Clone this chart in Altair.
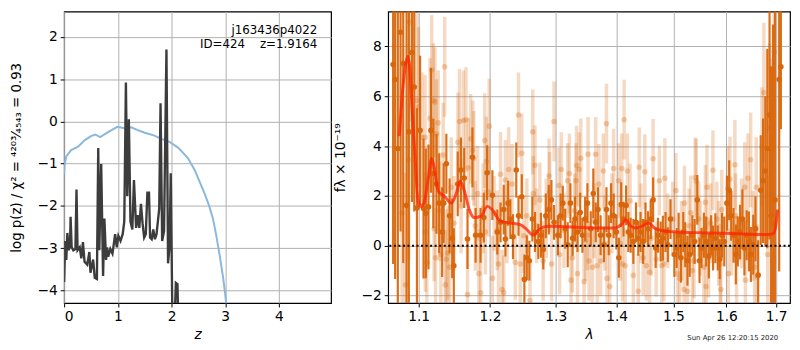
import altair as alt
import pandas as pd

# ---------------- left panel: log p(z) ----------------
pz_z = [0.00, 0.02, 0.04, 0.06, 0.085, 0.11, 0.12, 0.14, 0.17, 0.21,
        0.23, 0.25, 0.29, 0.32, 0.35, 0.38, 0.43, 0.47, 0.49, 0.54,
        0.57, 0.61, 0.635, 0.655, 0.69, 0.725, 0.75, 0.78, 0.80, 0.82,
        0.86, 0.90, 0.95, 0.98, 1.01, 1.05, 1.09, 1.12, 1.15, 1.175,
        1.205, 1.235, 1.27, 1.30, 1.34, 1.37, 1.40, 1.43, 1.46, 1.49,
        1.52, 1.55, 1.58, 1.60, 1.63, 1.66, 1.69, 1.72, 1.77, 1.795,
        1.825, 1.86, 1.905, 1.935, 1.965, 1.985, 2.015, 2.05, 2.08, 2.11,
        2.13, 2.20, 2.50]
pz_logp = [-3.80, -2.83, -3.28, -2.64, -3.05, -2.95, -2.26, -2.98, -3.05, -3.02,
           -1.61, -3.05, -2.98, -3.24, -2.86, -3.32, -3.39, -3.09, -3.58, -3.27,
           -3.70, -3.73, -0.63, -3.05, -1.01, -3.66, -2.30, -3.28, -2.98, -3.20,
           -3.02, -3.13, -2.67, -2.98, -2.71, -2.83, -2.67, -2.37, 0.92, -1.77,
           0.05, -2.37, -2.56, -1.39, -2.52, -2.22, -2.52, -1.95, -2.41, -2.75,
           -2.67, -1.69, -1.69, -2.75, -2.79, -2.56, -2.79, -2.67, -2.07, 0.43,
           -2.83, -2.60, 1.70, -3.36, -2.90, -1.23, -4.60, -5.00, -3.82, -3.85,
           -5.00, -6.50, -9.00]

chi_z = [0, 0.01, 0.04, 0.13, 0.26, 0.38, 0.5, 0.58, 0.67, 0.81,
         0.99, 1.08, 1.18, 1.25, 1.36, 1.5, 1.67, 1.82, 1.97, 2.12,
         2.22, 2.31, 2.43, 2.52, 2.62, 2.7, 2.77, 2.83, 2.9, 2.96,
         3.0, 3.03]
chi_val = [-1.25, -1.02, -0.83, -0.68, -0.6, -0.45, -0.35, -0.31, -0.37, -0.26,
           -0.13, -0.15, -0.17, -0.14, -0.2, -0.27, -0.33, -0.42, -0.49, -0.62,
           -0.75, -0.88, -1.15, -1.42, -1.72, -2.0, -2.3, -2.68, -3.2, -3.7,
           -4.1, -4.5]

z_ticks = [0, 1, 2, 3, 4]
logp_ticks = [-4, -3, -2, -1, 0, 1, 2]

# ---------------- right panel: spectrum ----------------
dark_lam = [1.0664, 1.0690, 1.0725, 1.0761, 1.0796, 1.0840, 1.0870, 1.0912, 1.0942, 1.0978,
            1.1020, 1.1066, 1.1097, 1.1133, 1.1167, 1.1199, 1.1243, 1.1279, 1.1320, 1.1341,
            1.1378, 1.1423, 1.1459, 1.1482, 1.1537, 1.1582, 1.1628, 1.1675, 1.1745, 1.1791,
            1.1862, 1.1909, 1.1957,
            1.2034, 1.2106, 1.2154, 1.2202, 1.2226, 1.2267, 1.2300, 1.2340, 1.2389, 1.2423,
            1.2473, 1.2512, 1.2549, 1.2588, 1.2634, 1.2675, 1.2726, 1.2767, 1.2803, 1.2843,
            1.2890, 1.2931, 1.2972,
            1.3033, 1.3076, 1.3111, 1.3149, 1.3190, 1.3233, 1.3269, 1.3307, 1.3348, 1.3392,
            1.3428, 1.3473, 1.3510, 1.3565, 1.3607, 1.3647, 1.3685, 1.3729, 1.3784, 1.3827,
            1.3866, 1.3904, 1.3949, 1.3994,
            1.4037, 1.4077, 1.4117, 1.4162, 1.4201, 1.4241, 1.4287, 1.4333, 1.4373, 1.4413,
            1.4458, 1.4500, 1.4546, 1.4594, 1.4635, 1.4681, 1.4722, 1.4770, 1.4810, 1.4858,
            1.4900, 1.4948,
            1.5019, 1.5061, 1.5097, 1.5139, 1.5183, 1.5219, 1.5260, 1.5302, 1.5352, 1.5394,
            1.5444, 1.5486, 1.5523, 1.5568, 1.5612, 1.5663, 1.5706, 1.5744, 1.5787, 1.5833,
            1.5872, 1.5916, 1.5960,
            1.6011, 1.6056, 1.6094, 1.6141, 1.6186, 1.6225, 1.6269, 1.6316, 1.6356, 1.6401,
            1.6446, 1.6485, 1.6533, 1.6578, 1.6632, 1.6684, 1.6731, 1.6778, 1.6818, 1.6864,
            1.6894, 1.6935, 1.6976, 1.7063, 1.7098]
dark_flux = [7.27, 6.67, 3.90, 8.57, 7.31, 1.62, 4.57, 7.76, 6.37, 1.52,
             4.63, 1.49, 1.30, 1.56, 4.63, 2.90, 2.48, 1.71, 0.55, 1.71,
             3.29, 1.20, 0.30, -0.80, 2.48, 3.04, 2.72, 0.27, 3.55, 0.42,
             0.42, 1.13, 2.93,
             2.03, 0.55, 0.94, 1.45, 0.27, 1.71, 1.07, 0.36, 3.04, 1.20,
             1.97, -1.35, -0.48, -0.60, 1.07, 0.55, 0.17, 0.42, -0.15, 1.20,
             1.45, 1.84, 0.94,
             0.42, 1.20, 1.71, 0.68, 0.04, 1.71, 0.30, 1.07, 0.55, 1.33,
             0.42, 1.07, 1.71, 0.68, 2.10, 0.94, 1.45, 0.42, 0.04, 1.45,
             0.42, 1.71, 1.20, 0.55,
             -0.48, 1.65, 1.07, 1.62, 0.55, 0.42, 0.17, 0.94, 0.30, 0.55,
             0.17, 0.94, 0.68, 1.07, 1.84, -0.09, 0.42, 0.17, 0.30, 0.55,
             0.04, 1.07,
             -0.35, -0.09, 0.42, -0.48, 0.55, 0.04, -0.60, -0.35, 0.42, 0.17,
             1.84, -0.60, -0.09, 0.42, 0.17, -0.41, 0.42, -0.09, 0.30, -0.09,
             -0.54, 0.42, 0.17,
             1.71, 2.23, 1.20, 0.42, -0.35, 0.17, 0.55, 1.07, -0.09, 0.42,
             0.17, -0.35, 0.04, 0.68, -1.18, 2.23, 2.61, 3.00, 3.90, 5.25,
             1.20, 0.88, 1.84, 6.67, 7.18]
dark_err = [8, 8, 8, 8, 8, 8, 8, 6, 5, 4,
            3, 2.8, 2.6, 2.5, 2.5, 2.2, 2.0, 2.0, 1.8, 1.6,
            1.2, 1.5, 1.6, 1.5, 1.3, 1.3, 1.2, 1.2, 1.2, 1.1,
            1.1, 1.0, 1.1,
            1.0, 0.9, 0.8, 1.0, 0.7, 0.9, 0.8, 0.9, 1.1, 0.8,
            0.9, 1.0, 0.9, 0.8, 0.9, 0.8, 0.7, 0.9, 0.8, 0.9,
            1.0, 0.8, 0.7,
            0.8, 0.9, 0.7, 0.8, 0.9, 0.8, 0.7, 0.9, 0.8, 0.8,
            0.7, 0.9, 0.8, 0.7, 1.0, 0.8, 0.9, 0.8, 0.7, 0.9,
            0.8, 0.8, 0.9, 0.7,
            0.8, 0.9, 0.7, 0.8, 0.8, 0.7, 0.9, 0.8, 0.7, 0.8,
            0.9, 0.8, 0.7, 0.8, 0.9, 0.8, 0.7, 0.8, 0.9, 0.8,
            0.7, 0.8,
            0.9, 0.8, 0.9, 1.0, 0.8, 0.9, 1.0, 0.9, 0.8, 0.9,
            1.0, 0.9, 0.8, 0.9, 1.0, 0.9, 0.8, 0.9, 1.0, 0.9,
            0.8, 0.9, 1.0,
            1.1, 1.2, 1.0, 1.1, 1.2, 1.0, 1.1, 1.2, 1.1, 1.0,
            1.2, 1.1, 1.2, 1.3, 1.4, 2.2, 2.5, 3.0, 4.0, 5.0,
            6.0, 8.0, 9.0, 7.7, 2.5]

light_lam = [1.0782, 1.0825, 1.0869, 1.0882, 1.0978, 1.1000, 1.1044, 1.1087, 1.1090, 1.1110,
             1.1154, 1.1176, 1.1199, 1.1209, 1.1220, 1.1230, 1.1243, 1.1265, 1.1287, 1.1302,
             1.1334, 1.1355, 1.1364, 1.1378, 1.1400, 1.1423, 1.1446, 1.1485, 1.1540, 1.1562,
             1.1584, 1.1617, 1.1653, 1.1675, 1.1688, 1.1720, 1.1751, 1.1764, 1.1787, 1.1820,
             1.1837, 1.1864, 1.1898, 1.1923, 1.1932, 1.1946, 1.1977, 1.1987, 1.2034, 1.2106,
             1.2124, 1.2154, 1.2178, 1.2202, 1.2226, 1.2275, 1.2325, 1.2374, 1.2423, 1.2449,
             1.2473, 1.2549, 1.2598, 1.2640, 1.2648, 1.2675, 1.2750, 1.2801, 1.2893, 1.2903,
             1.2934, 1.2972, 1.3049, 1.3060, 1.3086, 1.3190, 1.3216, 1.3243, 1.3264, 1.3323,
             1.3333, 1.3348, 1.3375, 1.3402, 1.3456, 1.3510, 1.3521, 1.3537, 1.3592, 1.3647,
             1.3673, 1.3700, 1.3729, 1.3773, 1.3827, 1.3837, 1.3882, 1.3949, 1.4033, 1.4088,
             1.4098, 1.4128, 1.4145, 1.4184, 1.4287, 1.4373, 1.4390, 1.4458, 1.4488, 1.4515,
             1.4573, 1.4635, 1.4690, 1.4746, 1.4789, 1.4830, 1.4846, 1.4988, 1.5046, 1.5075,
             1.5116, 1.5199, 1.5204, 1.5260, 1.5321, 1.5352, 1.5382, 1.5405, 1.5424, 1.5473,
             1.5567, 1.5597, 1.5609, 1.5627, 1.5658, 1.5741, 1.5816, 1.5881, 1.5893, 1.5912,
             1.6026, 1.6040, 1.6071, 1.6167, 1.6180, 1.6200, 1.6363, 1.6376, 1.6427, 1.6481,
             1.6560, 1.6593, 1.6613, 1.6708, 1.6748, 1.6827, 1.6860, 1.6907, 1.6960,
             1.2060, 1.2250, 1.2500, 1.2700, 1.2850, 1.3130, 1.3300, 1.3480, 1.3620, 1.3800,
             1.3920, 1.4060, 1.4230, 1.4420, 1.4600, 1.4900, 1.5150, 1.5290, 1.5500, 1.5700,
             1.5850, 1.6100, 1.6300, 1.6530]
light_flux = [1.32, -1.57, 3.45, 8.98, 5.83, 5.57, 4.35, 4.35, 0.55, -0.67,
              5.12, 7.05, 5.83, 0.68, 5.77, -0.48, 4.48, 4.93, 1.39, -0.35,
              3.64, 7.18, -1.57, -0.54, -0.29, -0.86, 2.35, 0.90, 4.15, 4.99,
              1.60, 5.03, 5.06, -1.96, 3.13, 4.29, 3.83, 3.51, 0.80, 2.10,
              -1.12, -1.89, 1.50, 4.22, 0.55, 3.38, 2.16, 4.80, -1.31, 0.62,
              -0.73, 2.87, -1.76, -1.89, 2.64, 3.06, 2.48, -0.67, 5.25, -0.73,
              3.71, 1.20, -2.20, 4.57, 2.10, 3.23, 1.84, -0.61, 2.80, 2.16,
              -0.73, 4.99, 2.42, -0.35, 3.06, 2.61, 2.90, -1.38, -0.48, 2.61,
              3.22, -1.12, 3.06, 3.51, -1.44, 0.42, 3.67, -0.61, -0.86, 3.67,
              -0.80, 2.48, -0.61, 3.00, 4.90, -1.31, -1.64, 3.10, 2.61, 3.10,
              -0.73, 5.06, -0.80, 3.00, -1.19, -1.83, 3.15, -0.48, 2.97, -0.80,
              -1.06, 3.49, -0.54, 2.61, -0.80, -0.73, 2.71, 1.07, 2.22, -1.12,
              -1.31, -1.76, 1.71, -1.83, 1.32, -0.99, -0.61, 2.74, 2.59, 1.07,
              -0.86, 1.74, -1.64, 2.35, -0.48, 3.03, 1.07, -0.73, -1.76, 1.45,
              2.29, -1.12, 2.67, 3.25, 1.20, -0.61, 2.35, -1.38, 2.71, 3.45,
              -0.86, 2.35, -1.25, 3.96, 6.15, -0.35, 4.73, 3.90, 7.78,
              1.30, 0.90, 0.40, 0.80, 1.10, 0.60, 1.40, 0.20, 1.00, 0.50,
              1.30, 0.10, 1.80, 0.90, 0.30, 0.60, 0.20, 0.80, 0.30, 0.90,
              0.10, 0.50, 0.90, 0.40]
light_err = [4.0, 4.5, 4.0, 4.0, 3.5, 3.2, 2.6, 2.5, 2.4, 2.3,
             2.4, 2.2, 2.3, 2.1, 2.2, 2.0, 2.2, 2.1, 2.0, 2.2,
             2.1, 2.0, 2.2, 2.0, 1.9, 2.1, 2.0, 1.9, 2.0, 2.1,
             1.9, 2.0, 2.1, 1.9, 2.0, 1.8, 2.0, 1.9, 1.8, 1.9,
             1.8, 1.9, 1.8, 1.9, 1.7, 1.8, 1.8, 1.9, 1.7, 1.6,
             1.6, 1.7, 1.6, 1.5, 1.6, 1.7, 1.6, 1.5, 1.7, 1.6,
             1.6, 1.5, 1.6, 1.7, 1.5, 1.6, 1.5, 1.6, 1.5, 1.6,
             1.5, 1.6, 1.5, 1.6, 1.5, 1.5, 1.6, 1.5, 1.4, 1.5,
             1.6, 1.5, 1.5, 1.6, 1.5, 1.4, 1.5, 1.6, 1.5, 1.5,
             1.5, 1.6, 1.4, 1.5, 1.6, 1.5, 1.5, 1.6, 1.5, 1.4,
             1.5, 1.6, 1.5, 1.5, 1.4, 1.5, 1.6, 1.5, 1.5, 1.4,
             1.5, 1.6, 1.5, 1.4, 1.5, 1.5, 1.6, 1.5, 1.5, 1.6,
             1.5, 1.6, 1.5, 1.6, 1.5, 1.6, 1.5, 1.6, 1.7, 1.5,
             1.6, 1.5, 1.6, 1.7, 1.6, 1.6, 1.5, 1.6, 1.7, 1.6,
             1.7, 1.8, 1.7, 1.8, 1.7, 1.8, 1.8, 1.9, 1.8, 1.9,
             1.9, 2.0, 2.1, 2.4, 2.8, 3.2, 3.4, 3.6, 4.0,
             1.5, 1.6, 1.5, 1.5, 1.6, 1.5, 1.5, 1.6, 1.5, 1.5,
             1.6, 1.5, 1.5, 1.6, 1.5, 1.5, 1.6, 1.5, 1.5, 1.6,
             1.7, 1.7, 1.8, 1.8]

model_lam = [1.0744, 1.079, 1.0835, 1.0856, 1.089, 1.0912, 1.0943, 1.0968, 1.0987, 1.102,
             1.107, 1.113, 1.1176, 1.122, 1.1265, 1.1356, 1.1448, 1.1516, 1.157, 1.163,
             1.170, 1.177, 1.187, 1.196, 1.203, 1.215, 1.230, 1.245, 1.255, 1.265,
             1.275, 1.288, 1.327, 1.370, 1.395, 1.409, 1.416, 1.424, 1.434, 1.446,
             1.456, 1.466, 1.481, 1.500, 1.550, 1.600, 1.650, 1.685, 1.695, 1.700,
             1.703]
model_flux = [4.4, 6.3, 7.4, 7.6, 6.86, 5.57, 4.03, 2.74, 1.97, 1.58,
              1.7, 2.7, 3.5, 3.0, 2.2, 1.97, 1.71, 2.1, 2.6, 2.2,
              1.45, 1.13, 1.2, 1.58, 1.45, 1.0, 0.91, 0.85, 0.65, 0.42,
              0.68, 0.78, 0.75, 0.71, 0.71, 0.87, 1.04, 0.78, 0.71, 0.81,
              0.91, 0.71, 0.6, 0.56, 0.52, 0.5, 0.46, 0.45, 0.5, 0.9,
              1.45]

lam_ticks = [1.1, 1.2, 1.3, 1.4, 1.5, 1.6, 1.7]
flux_ticks = [-2, 0, 2, 4, 6, 8]

FONT = "DejaVu Sans"
ORANGE = "#d9660b"
H = 296
WL = 271
WR = 408

# ---------------- left chart ----------------
chi_df = pd.DataFrame({"z": chi_z, "v": chi_val})
pz_df = pd.DataFrame({"z": pz_z, "v": pz_logp})

zx = alt.X("z:Q", scale=alt.Scale(domain=[0, 4.97], nice=False, zero=False),
           axis=alt.Axis(values=z_ticks, title="z", titleFontStyle="italic", format="d"))
vy = alt.Y("v:Q", scale=alt.Scale(domain=[-4.3, 2.6], nice=False, zero=False),
           axis=alt.Axis(values=logp_ticks, format="d", titlePadding=14, titleFontSize=13.5,
                         title="log p(z) / χ² = ⁴²⁰³⁄₄₅₄₃ = 0.93"))

blue = alt.Chart(chi_df).mark_line(color="#8ab8dc", strokeWidth=2, clip=True).encode(x=zx, y=vy)
black = alt.Chart(pz_df).mark_line(color="#3c3c3c", strokeWidth=2.4, clip=True).encode(x="z:Q", y="v:Q")

t1 = alt.Chart(pd.DataFrame({"t": ["j163436p4022"]})).mark_text(
    align="right", baseline="middle", font=FONT, fontSize=12, color="black"
).encode(text="t:N", x=alt.value(257), y=alt.value(19))
t2 = alt.Chart(pd.DataFrame({"t": ["ID=424\u00a0\u00a0\u00a0\u00a0z=1.9164"]})).mark_text(
    align="right", baseline="middle", font=FONT, fontSize=12, color="black"
).encode(text="t:N", x=alt.value(257), y=alt.value(33))

left = alt.layer(blue, black, t1, t2).properties(width=WL, height=H)

# ---------------- right chart ----------------
dark_df = pd.DataFrame({
    "lam": dark_lam, "f": dark_flux,
    "lo": [f - e for f, e in zip(dark_flux, dark_err)],
    "hi": [f + e for f, e in zip(dark_flux, dark_err)],
})
light_df = pd.DataFrame({
    "lam": light_lam, "f": light_flux,
    "lo": [f - e for f, e in zip(light_flux, light_err)],
    "hi": [f + e for f, e in zip(light_flux, light_err)],
})
model_df = pd.DataFrame({"lam": model_lam, "f": model_flux})

lx = alt.X("lam:Q", scale=alt.Scale(type="log", domain=[1.06, 1.729], nice=False),
           axis=alt.Axis(values=lam_ticks, format=".1f", title="λ", titleFontStyle="italic"))
fy = alt.Y("f:Q", scale=alt.Scale(domain=[-2.3, 9.4], nice=False, zero=False),
           axis=alt.Axis(values=flux_ticks, format="d", title="fλ × 10⁻¹⁹", titlePadding=14))

light_bars = alt.Chart(light_df).mark_rule(color=ORANGE, opacity=0.25, strokeWidth=3.5, clip=True).encode(
    x=lx, y=alt.Y("lo:Q"), y2="hi:Q")
light_pts = alt.Chart(light_df).mark_circle(color=ORANGE, opacity=0.3, size=32, clip=True).encode(
    x="lam:Q", y=fy)
dark_bars = alt.Chart(dark_df).mark_rule(color=ORANGE, opacity=0.95, strokeWidth=2.2, clip=True).encode(
    x="lam:Q", y="lo:Q", y2="hi:Q")
dark_pts = alt.Chart(dark_df).mark_circle(color=ORANGE, opacity=1, size=32, clip=True).encode(
    x="lam:Q", y="f:Q")
model = alt.Chart(model_df).mark_line(color="#ff2200", opacity=0.75, strokeWidth=3,
                                      interpolate="monotone", clip=True).encode(x="lam:Q", y="f:Q")
zero = alt.Chart(pd.DataFrame({"f": [0]})).mark_rule(
    color="black", strokeWidth=2, strokeDash=[2, 2.6]).encode(y="f:Q")
stamp = alt.Chart(pd.DataFrame({"t": ["Sun Apr 26 12:20:15 2020"]})).mark_text(
    align="right", baseline="middle", font=FONT, fontSize=7, color="#222222"
).encode(text="t:N", x=alt.value(396), y=alt.value(H + 35))

right = alt.layer(light_bars, light_pts, dark_bars, dark_pts, model, zero, stamp).properties(
    width=WR, height=H)

chart = alt.hconcat(left, right, spacing=0).properties(
    padding={"left": 0, "top": 0, "right": 0, "bottom": 0}
).configure_axis(
    grid=True, gridColor="#b0b0b0", gridWidth=1, domain=False,
    tickColor="black", tickSize=4, tickWidth=1,
    labelColor="black", labelFont=FONT, labelFontSize=14, labelPadding=3,
    titleColor="black", titleFont=FONT, titleFontSize=14, titleFontWeight="normal",
).configure_axisX(titlePadding=4).configure_view(
    stroke="black", strokeWidth=1.2)

chart.save("out.html", embed_options={"renderer": "svg", "actions": False})
